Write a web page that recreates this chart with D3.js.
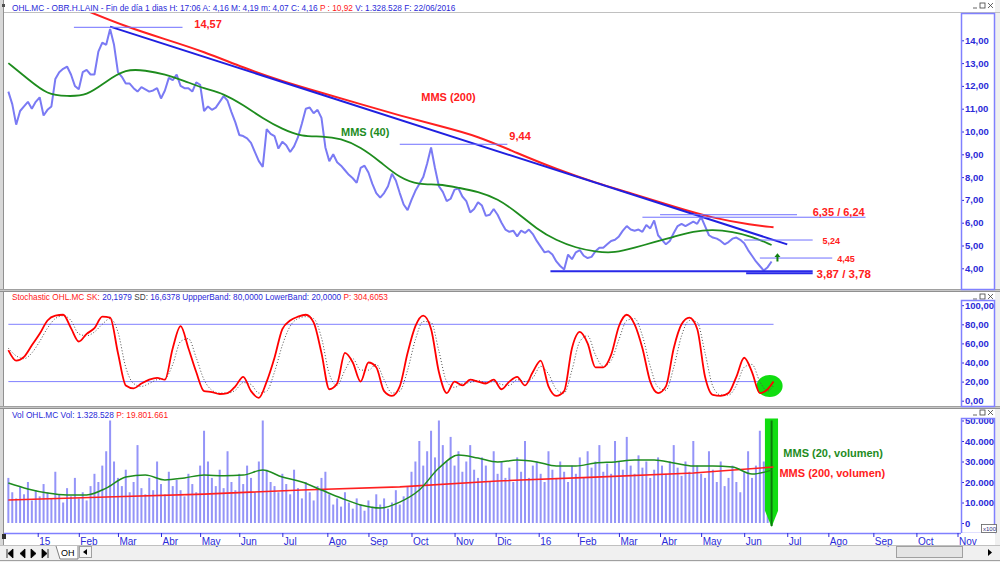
<!DOCTYPE html>
<html><head><meta charset="utf-8">
<script src="https://cdn.jsdelivr.net/npm/d3@7"></script>
<style>
body{margin:0;background:#f0f0f0;}
svg{display:block;font-family:"Liberation Sans",Arial,sans-serif;}
</style></head><body><svg id="chart" width="1000" height="562"></svg>
<script>
// trading days per month, Jan 2015 .. Oct 2016 (ticks at month starts)
var monthDays = [21,20,22,20,20,22,23,21,22,22,21,22, 20,21,21,21,22,22,21,23,22,21];
var monthLabels = ["15","Feb","Mar","Abr","May","Jun","Jul","Ago","Sep","Oct","Nov","Dic","16","Feb","Mar","Abr","May","Jun","Jul","Ago","Sep","Oct","Nov"];

// closes, one value every 2 sessions from mid Dec 2014
var closes = [11.75,11.2,10.3,10.9,11.1,11.3,11.0,11.3,11.5,10.7,10.95,11.1,12.3,12.6,12.75,12.85,12.5,12.0,11.85,12.6,
  12.7,12.5,12.5,13.5,13.9,13.8,14.5,13.8,12.6,12.4,12.1,12.1,11.9,11.75,11.95,11.85,11.75,11.8,11.9,11.45,
  11.8,12.35,12.25,12.5,12.0,11.9,11.9,11.75,12.15,12.05,10.9,11.1,10.95,11.05,11.3,11.55,11.35,10.85,10.4,9.85,
  9.8,9.7,9.5,9.1,8.7,8.45,10.1,9.9,9.8,9.25,9.55,9.4,9.1,9.35,9.75,10.35,11.0,11.05,10.8,10.95,
  10.6,9.3,8.7,9.0,8.65,8.5,8.3,8.1,7.95,7.75,8.4,8.5,8.2,7.7,7.3,7.1,7.3,7.6,8.15,7.85,
  7.3,6.8,6.55,7.0,7.4,7.7,8.0,8.6,9.3,8.4,7.6,7.35,6.95,7.05,7.45,7.5,7.15,6.95,6.45,6.6,
  6.9,6.75,6.3,6.35,6.6,6.35,6.0,5.7,5.6,5.65,5.4,5.65,5.55,5.7,5.5,5.2,4.95,4.7,4.75,4.6,
  4.3,4.1,3.95,4.6,4.4,4.7,4.8,4.55,4.45,4.5,4.75,4.9,4.9,5.05,5.2,5.25,5.4,5.65,5.85,5.7,
  5.65,5.7,5.6,5.9,5.75,6.1,5.45,5.25,5.05,5.2,5.55,5.85,5.95,5.85,5.95,6.05,5.95,6.25,5.85,5.45,
  5.35,5.3,5.2,5.05,5.15,5.3,5.35,5.25,5.1,4.8,4.55,4.3,4.1,3.9,4.05,4.3];
// MMS 40, one value every 10 sessions
var mms40 = [13.0,12.3,11.6,11.55,11.55,12.2,12.75,12.68,12.52,12.22,11.88,11.67,11.16,10.58,10.1,9.77,9.8,9.7,9.32,8.68,
  7.95,7.66,7.7,7.53,7.37,7.05,6.45,5.72,5.22,4.9,4.72,4.67,4.9,5.15,5.38,5.62,5.7,5.6,5.4,5.02];
// MMS 200, one value every 20 sessions starting at session 40
var mms200 = [15.3,14.6,14.05,13.5,12.8,12.2,11.7,11.2,10.7,10.25,9.8,9.05,8.35,7.75,7.25,6.7,6.2,5.9,5.8];

// stochastic %K and %D, one value every 4 sessions
var stochK = [53,42,46,58,70,84,89,90,76,62,70,76,88,87,50,16,13,18,22,24,
  22,55,78,55,30,10,9,7,8,15,25,10,3,20,45,75,84,88,90,82,
  50,12,18,50,40,20,40,35,10,5,15,50,78,89,75,30,8,20,16,22,
  20,18,22,12,20,25,16,30,42,15,5,10,55,72,60,35,35,48,78,90,
  80,55,20,8,15,55,80,87,75,25,6,5,8,25,45,30,8,12,20];
var stochD = [55,47,44,50,62,76,86,89,84,70,68,72,80,86,72,35,18,15,18,22,
  23,38,62,65,45,22,11,8,8,11,19,17,8,10,30,58,78,86,88,86,
  66,28,16,32,44,32,32,38,22,8,10,32,64,83,82,52,20,14,18,19,
  21,19,20,17,16,22,20,24,36,28,12,8,32,62,68,48,36,42,64,84,
  86,68,36,14,11,35,68,84,82,50,15,6,6,16,35,38,20,10,16];
var bands = [80, 20];

// volume, one value every 2 sessions
var volume = [22000,15000,12000,18000,14000,20000,11000,16000,13000,19000,15000,12000,25000,14000,10000,17000,13000,22000,12000,15000,11000,18000,24000,20000,
  28000,35000,50000,30000,22000,18000,26000,15000,20000,38000,17000,14000,22000,16000,30000,19000,14000,25000,18000,21000,16000,13000,24000,19000,15000,28000,45000,
  30000,22000,18000,26000,17000,35000,20000,16000,24000,19000,28000,22000,15000,30000,50000,26000,20000,18000,15000,24000,19000,14000,26000,17000,12000,20000,15000,11000,18000,22000,
  25000,14000,9000,12000,8000,15000,10000,7000,12000,9000,6000,11000,8000,14000,9000,12000,7000,10000,16000,9000,13000,18000,25000,30000,40000,28000,35000,45000,32000,50000,
  38000,30000,42000,28000,35000,25000,30000,38000,26000,22000,32000,28000,20000,35000,24000,30000,22000,27000,20000,32000,25000,40000,22000,28000,30000,24000,20000,35000,26000,22000,
  30000,25000,20000,28000,24000,32000,22000,35000,27000,30000,38000,25000,29000,24000,40000,30000,26000,42000,28000,24000,33000,27000,30000,22000,26000,32000,28000,24000,30000,38000,
  27000,23000,30000,25000,40000,28000,24000,22000,35000,26000,20000,30000,18000,22000,28000,20000,15000,25000,35000,22000,28000,45000,30000,25000,12000];
// volume averages, one value every 10 sessions (20) and every 50 sessions (200)
var volMms20 = [19500,16600,14600,13700,13700,17000,22400,23400,21000,22000,23400,23000,23400,25800,22400,20000,16100,12200,8800,7300,
  10200,16100,26800,33200,31700,29800,30700,29800,27800,27800,29300,29800,30700,30700,29300,27800,27800,27300,23900,25800];
var volMms200 = [11200,12700,14100,16100,17600,20500,22400,24400,27300];

// drawn levels: value, first and last session, label
var levels = [
  {v:14.57, a:33.5, b:89, label:"14,57", li:95, lv:14.54, size:11},
  {v:9.44, a:200, b:255, label:"9,44", li:256, lv:9.64, size:11},
  {v:6.35, a:333, b:403, label:"", size:11},
  {v:6.24, a:324, b:438, label:"6,35 / 6,24", li:411, lv:6.29, size:11},
  {v:5.24, a:376, b:411, label:"5,24", li:416, lv:5.05, size:9},
  {v:4.45, a:384, b:421, label:"4,45", li:423.5, lv:4.26, size:9}
];
var supports = [{v:3.87, a:277, b:411}, {v:3.78, a:377, b:411}];
var supportLabel = {label:"3,87 / 3,78", li:413, lv:3.57};
var trend = [{i:52, v:14.6}, {i:398, v:5.05}];

var svg = d3.select("#chart");
var W = 1000;
var plotL = 4, plotR = 961, boxR = 995;
var blue = "#2a2ad8", red = "#ff2020", green = "#1e8c1e", light = "#8080ff";

var x = d3.scaleLinear().domain([0, 485]).range([8.35, 957.5]);
var yP = d3.scaleLinear().domain([4, 14]).range([268.3, 40.3]);
var yS = d3.scaleLinear().domain([0, 100]).range([400.7, 305.2]);
var yV = d3.scaleLinear().domain([0, 40000]).range([523, 441]);

var panels = [
  {top:0, plotTop:13, bottom:289, boxTop:13},
  {top:292, plotTop:292, bottom:406, boxTop:300},
  {top:408, plotTop:408, bottom:533, boxTop:418}
];

svg.append("rect").attr("width", W).attr("height", 562).attr("fill", "#f0f0f0");
svg.append("rect").attr("x", 0).attr("y", 0).attr("width", 4).attr("height", 545).attr("fill", "#d8d8d8");
svg.append("line").attr("x1", 3.5).attr("x2", 3.5).attr("y1", 0).attr("y2", 545).attr("stroke", "#909090");

panels.forEach(function (p, n) {
  svg.append("rect").attr("x", plotL).attr("y", p.top).attr("width", boxR - plotL).attr("height", p.bottom - p.top).attr("fill", "#fff");
  svg.append("defs").append("clipPath").attr("id", "clip" + n)
    .append("rect").attr("x", plotL).attr("y", p.plotTop).attr("width", plotR - plotL).attr("height", p.bottom - p.plotTop);
  svg.append("defs").append("clipPath").attr("id", "box" + n)
    .append("rect").attr("x", plotR).attr("y", p.boxTop).attr("width", boxR - plotR).attr("height", p.bottom - p.boxTop);
  // window buttons
  var by = n == 0 ? 2 : p.top + 1;
  var wb = svg.append("g").attr("transform", "translate(973," + by + ")").attr("stroke", "#404040").attr("fill", "none").attr("stroke-width", 0.8);
  wb.append("line").attr("x1", 0).attr("x2", 4).attr("y1", 6).attr("y2", 6);
  wb.append("rect").attr("x", 7).attr("y", 1).attr("width", 5).attr("height", 5);
  wb.append("path").attr("d", "M15,1L20,6M20,1L15,6");
});
// separators
[289, 406].forEach(function (y) {
  svg.append("rect").attr("x", 0).attr("y", y).attr("width", W).attr("height", 3).attr("fill", "#c8c8c8");
  svg.append("line").attr("x1", 0).attr("x2", W).attr("y1", y + 0.5).attr("y2", y + 0.5).attr("stroke", "#a0a0a0");
  svg.append("line").attr("x1", 0).attr("x2", W).attr("y1", y + 2.5).attr("y2", y + 2.5).attr("stroke", "#909090");
});
svg.append("line").attr("x1", 4).attr("x2", W).attr("y1", 12.5).attr("y2", 12.5).attr("stroke", "#c0c0c0");

// headers, font size fitted to the reference width
function header(parts, y, len) {
  var t = svg.append("text").attr("x", 12).attr("y", y).attr("font-size", 10);
  parts.forEach(function (p) { t.append("tspan").attr("fill", p[1]).text(p[0]); });
  var w = t.node().getComputedTextLength();
  t.attr("font-size", (10 * len / w).toFixed(2));
}
svg.append("rect").attr("x", 2).attr("y", 4).attr("width", 3).attr("height", 3).attr("fill", "#505050");
header([["OHL.MC - OBR.H.LAIN - Fin de día 1 dias H: 17:06 A: 4,16 M: 4,19 m: 4,07 C: 4,16 ", blue], ["P : 10,92 ", red], ["V: 1.328.528 F: 22/06/2016", blue]], 10.5, 444);
header([["Stochastic  OHL.MC SK: ", red], ["20,1979 ", blue], ["SD: ", "#404040"], ["16,6378 UppperBand: 80,0000 LowerBand: 20,0000 ", blue], ["P: 304,6053", red]], 299.5, 376);
header([["Vol  OHL.MC Vol: 1.328.528 ", blue], ["P: 19.801.661", red]], 417.5, 156);

// y axes
function yAxis(scale, ticks, fmt, n) {
  var p = panels[n];
  var g = svg.append("g").attr("clip-path", "url(#box" + n + ")").append("g")
    .attr("transform", "translate(" + plotR + ",0)")
    .call(d3.axisRight(scale).tickValues(ticks).tickFormat(fmt).tickSize(3).tickPadding(1));
  g.select(".domain").remove();
  g.selectAll("line").attr("stroke", blue);
  g.selectAll("text").attr("fill", blue).attr("font-size", 9.5).attr("font-weight", "bold").attr("font-family", "Liberation Sans, Arial");
  svg.append("rect").attr("x", plotR + 0.5).attr("y", p.boxTop + 0.5).attr("width", boxR - plotR - 1).attr("height", p.bottom - p.boxTop)
    .attr("fill", "none").attr("stroke", light).attr("stroke-width", 1.5);
}
yAxis(yP, d3.range(3, 15), function (d) { return d3.format(".2f")(d).replace(".", ","); }, 0);
yAxis(yS, [0, 20, 40, 60, 80, 100], function (d) { return d3.format(".2f")(d).replace(".", ","); }, 1);
yAxis(yV, [0, 10000, 20000, 30000, 40000, 50000], function (d) { return d3.format(",")(d).replace(",", "."); }, 2);

// ---- price panel
var gP = svg.append("g").attr("clip-path", "url(#clip0)");
gP.append("path").datum(closes)
  .attr("d", d3.line().x(function (d, k) { return x(k * 2); }).y(function (d) { return yP(d); }))
  .attr("fill", "none").attr("stroke", "#7a7af4").attr("stroke-width", 2).attr("stroke-linejoin", "bevel");
gP.append("path").datum(mms40)
  .attr("d", d3.line().curve(d3.curveBasis).x(function (d, k) { return x(Math.min(k * 10, 391)); }).y(function (d) { return yP(d); }))
  .attr("fill", "none").attr("stroke", green).attr("stroke-width", 1.8);
gP.append("path").datum(mms200)
  .attr("d", d3.line().curve(d3.curveBasis).x(function (d, k) { return x(Math.min(40 + k * 20, 391)); }).y(function (d) { return yP(d); }))
  .attr("fill", "none").attr("stroke", red).attr("stroke-width", 2);
gP.append("path").datum(trend)
  .attr("d", d3.line().x(function (d) { return x(d.i); }).y(function (d) { return yP(d.v); }))
  .attr("stroke", "#2020e0").attr("stroke-width", 2);

levels.forEach(function (l) {
  gP.append("line").attr("x1", x(l.a)).attr("x2", x(l.b)).attr("y1", yP(l.v)).attr("y2", yP(l.v))
    .attr("stroke", "#7070ff").attr("stroke-width", 1);
  if (l.label) gP.append("text").attr("x", x(l.li)).attr("y", yP(l.lv)).text(l.label)
    .attr("fill", red).attr("font-weight", "bold").attr("font-size", l.size);
});
supports.forEach(function (l) {
  gP.append("line").attr("x1", x(l.a)).attr("x2", x(l.b)).attr("y1", yP(l.v)).attr("y2", yP(l.v))
    .attr("stroke", "#2828e8").attr("stroke-width", 2);
});
gP.append("text").attr("x", x(supportLabel.li)).attr("y", yP(supportLabel.lv)).text(supportLabel.label)
  .attr("fill", red).attr("font-weight", "bold").attr("font-size", 11.5);
gP.append("text").attr("x", x(211)).attr("y", yP(11.34)).text("MMS (200)").attr("fill", red).attr("font-weight", "bold").attr("font-size", 11);
gP.append("text").attr("x", x(170)).attr("y", yP(9.8)).text("MMS (40)").attr("fill", green).attr("font-weight", "bold").attr("font-size", 11);
// green arrow
var ax = x(393);
gP.append("path").attr("d", "M" + ax + "," + yP(4.66) + "L" + (ax - 3) + "," + yP(4.5) + "L" + (ax - 1) + "," + yP(4.5) +
  "L" + (ax - 1) + "," + yP(4.3) + "L" + (ax + 1) + "," + yP(4.3) + "L" + (ax + 1) + "," + yP(4.5) + "L" + (ax + 3) + "," + yP(4.5) + "Z")
  .attr("fill", "#108010");

// ---- stochastic panel
var gS = svg.append("g").attr("clip-path", "url(#clip1)");
bands.forEach(function (b) {
  gS.append("line").attr("x1", x(0)).attr("x2", x(391)).attr("y1", yS(b)).attr("y2", yS(b)).attr("stroke", light).attr("stroke-width", 1);
});
gS.append("ellipse").attr("cx", x(389)).attr("cy", yS(15.4)).attr("rx", 13).attr("ry", 11).attr("fill", "#10dd10");
var sLine = d3.line().curve(d3.curveMonotoneX).x(function (d, k) { return x(Math.min(k * 4, 391)); }).y(function (d) { return yS(d); });
gS.append("path").datum(stochD).attr("d", sLine).attr("fill", "none").attr("stroke", "#505050").attr("stroke-width", 1).attr("stroke-dasharray", "1,2");
gS.append("path").datum(stochK).attr("d", sLine).attr("fill", "none").attr("stroke", "#ff0000").attr("stroke-width", 1.8);

// ---- volume panel
var gV = svg.append("g").attr("clip-path", "url(#clip2)");
gV.selectAll("rect.vol").data(volume).enter().append("rect").attr("class", "vol")
  .attr("x", function (d, k) { return x(k * 2) - 1; }).attr("width", 2)
  .attr("y", function (d) { return yV(d); }).attr("height", function (d) { return yV(0) - yV(d); })
  .attr("fill", "#9494f8");
gV.append("path").attr("d", "M" + x(386.6) + "," + yV(51000) + "L" + x(393.3) + "," + yV(51000) + "L" + x(393.3) + "," + yV(6000) +
  "L" + x(390) + "," + yV(-2000) + "L" + x(386.6) + "," + yV(6000) + "Z").attr("fill", "#10dd10");
gV.append("line").attr("x1", x(390)).attr("x2", x(390)).attr("y1", yV(50000)).attr("y2", yV(-1500)).attr("stroke", "#0a7a0a").attr("stroke-width", 2);
gV.append("path").datum(volMms200)
  .attr("d", d3.line().x(function (d, k) { return x(Math.min(k * 50, 391)); }).y(function (d) { return yV(d); }))
  .attr("fill", "none").attr("stroke", red).attr("stroke-width", 1.6);
gV.append("path").datum(volMms20)
  .attr("d", d3.line().curve(d3.curveMonotoneX).x(function (d, k) { return x(Math.min(k * 10, 391)); }).y(function (d) { return yV(d); }))
  .attr("fill", "none").attr("stroke", green).attr("stroke-width", 1.5);
svg.append("text").attr("x", x(396)).attr("y", yV(32200)).text("MMS (20, volumen)").attr("fill", green).attr("font-weight", "bold").attr("font-size", 11);
svg.append("text").attr("x", x(394)).attr("y", yV(22600)).text("MMS (200, volumen)").attr("fill", red).attr("font-weight", "bold").attr("font-size", 11);
svg.append("rect").attr("x", 981.5).attr("y", 524.5).attr("width", 15).attr("height", 8).attr("fill", "#fff").attr("stroke", "#606060").attr("stroke-width", 0.8);
svg.append("text").attr("x", 983).attr("y", 531).attr("font-size", 6).attr("fill", "#303080").text("x100");

// ---- time axis
var starts = [15];
monthDays.forEach(function (d) { starts.push(starts[starts.length - 1] + d); });
svg.append("rect").attr("x", plotL).attr("y", 533).attr("width", boxR - plotL).attr("height", 12).attr("fill", "#fff");
var gx = svg.append("g").attr("transform", "translate(0,533)")
  .call(d3.axisBottom(x).tickValues(starts).tickFormat(function (d, k) { return monthLabels[k]; }).tickSize(4).tickSizeOuter(0));
gx.select(".domain").attr("d", "M" + plotL + ",0.5H" + plotR).attr("stroke", light).attr("stroke-width", 1.5);
gx.selectAll(".tick line").attr("stroke", blue);
gx.selectAll(".tick text").attr("text-anchor", "start").attr("x", 1).attr("dy", "0.35em").attr("y", 8)
  .attr("fill", blue).attr("font-size", 10).attr("font-family", "Liberation Sans, Arial");

// bottom strip with sheet tabs
var bottom = svg.append("g");
bottom.append("line").attr("x1", 0).attr("x2", W).attr("y1", 545.5).attr("y2", 545.5).attr("stroke", "#c0c0c0");
bottom.append("rect").attr("x", 2).attr("y", 534).attr("width", 4).attr("height", 5).attr("fill", "#303030");
var nav = ["M7,549V558M8,553.5L13,549V558Z", "M20,553.5L25,549V558Z", "M31,549V558L36,553.5Z", "M42,549V558L47,553.5ZM48,549V558"];
nav.forEach(function (d) { bottom.append("path").attr("d", d).attr("fill", "#000").attr("stroke", "#000").attr("stroke-width", 0.8); });
bottom.append("path").attr("d", "M56,546L60,559H78V546").attr("fill", "#fff").attr("stroke", "#808080");
bottom.append("text").attr("x", 61).attr("y", 556).attr("font-size", 9).attr("fill", "#000").text("OH");
bottom.append("rect").attr("x", 79.5).attr("y", 546.5).attr("width", 12).attr("height", 11).attr("fill", "#f4f4f4").attr("stroke", "#a0a0a0");
bottom.append("path").attr("d", "M83,552L87,549V555Z").attr("fill", "#000");
bottom.append("rect").attr("x", 896.5).attr("y", 546.5).attr("width", 66).attr("height", 11).attr("fill", "#e4e4e4").attr("stroke", "#a0a0a0");
bottom.append("path").attr("d", "M988,549L992,552.5L988,556Z").attr("fill", "#000");
bottom.append("line").attr("x1", 0).attr("x2", W).attr("y1", 560.5).attr("y2", 560.5).attr("stroke", "#a0a0a0");
</script></body></html>
